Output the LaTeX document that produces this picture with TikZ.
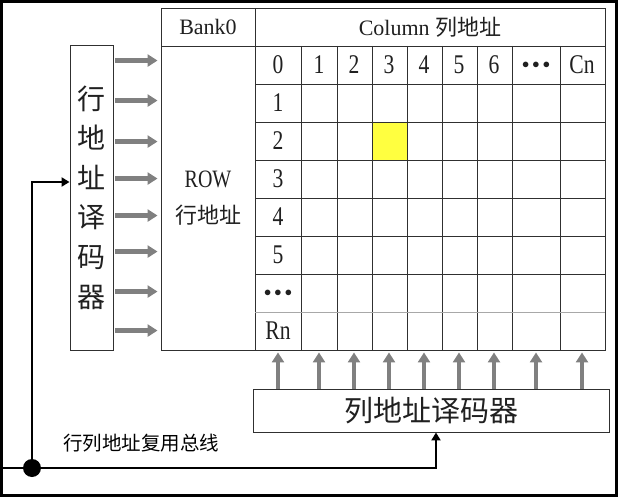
\documentclass[tikz,border=0pt]{standalone}
\usepackage{fontspec}
\setmainfont{Liberation Serif}[FakeStretch=0.8]
\newfontfamily\hdrfont{Liberation Serif}
\newfontfamily\cjk{Noto Sans CJK SC}
\usetikzlibrary{arrows.meta, positioning}
\definecolor{gridline}{HTML}{303030}
\definecolor{textgray}{HTML}{202020}
\definecolor{arrowgray}{HTML}{808080}
\definecolor{cellyellow}{HTML}{FFFF40}
\definecolor{lightline}{HTML}{A8A8A8}
\newcommand{\hdots}{{\fontsize{14}{14}\selectfont$\bullet\bullet\bullet$}}

\begin{document}
\begin{tikzpicture}[x=1pt, y=-1pt,
    box/.style={draw=gridline, line width=0.9pt, inner sep=0pt, text=textgray},
    numlbl/.style={font=\fontsize{27}{27}\selectfont, text=textgray},
    grayarrow/.style={draw=arrowgray, line width=4.5pt, -{Triangle[length=10pt, width=12pt]}},
    busline/.style={line width=2.8pt, line join=miter},
    busarrow/.style={busline, -{Triangle[length=8pt, width=9pt]}}
]
  \useasboundingbox (0,0) rectangle (618,497);

  % Rahmen
  \draw[line width=2.6pt] (1.5,1.5) rectangle (616.5,495.5);

  % markierte Zelle
  \fill[cellyellow] (372,122) rectangle (407,160);

  % Kopfzeile
  \node[box, minimum width=94pt, minimum height=38pt, font=\hdrfont\fontsize{22}{22}\selectfont] (bank) at (208,27) {Bank0};
  \node[box, minimum width=350pt, minimum height=38pt, font=\hdrfont\fontsize{22}{22}\selectfont] (colhd) at (430,27) {Column {\cjk\fontsize{22}{22}\selectfont 列地址}};

  % Zeilenblock
  \node[box, minimum width=94pt, minimum height=304pt, align=center, font=\fontsize{25}{36}\selectfont] (rowblk) at (208,198) {ROW\\{\cjk\fontsize{22}{36}\selectfont 行地址}};

  % Matrix
  \node[box, minimum width=350pt, minimum height=304pt] (grid) at (430,198) {};
  \foreach \gx in {301,337,372,407,442,477,512,560}
    \draw[gridline, line width=0.9pt] (\gx,46) -- (\gx,350);
  \foreach \gy in {84,122,160,198,236,274}
    \draw[gridline, line width=0.9pt] (255,\gy) -- (605,\gy);
  \draw[lightline, line width=0.9pt] (255,312) -- (605,312);

  % Spaltennummern
  \foreach \px/\nm/\lbl in {278/h0/0, 319/h1/1, 354/h2/2, 389/h3/3, 424/h4/4, 459/h5/5, 494/h6/6, 536/h7/\hdots, 582/h8/Cn}
    \node[numlbl] (\nm) at (\px,65) {\lbl};

  % Zeilennummern
  \foreach \py/\nm/\lbl in {103/r1/1, 141/r2/2, 179/r3/3, 217/r4/4, 255/r5/5, 293/r6/\hdots, 331/r7/Rn}
    \node[numlbl] (\nm) at (278,\py) {\lbl};

  % Zeilendecoder
  \node[box, minimum width=43pt, minimum height=305pt, align=center, font=\cjk\fontsize{28}{39.6}\selectfont] (rowdec) at (91.5,197.5) {行\\地\\址\\译\\码\\器};
  \foreach \py in {61,101,142,179,216,252,292,331} {
    \path ([xshift=2pt, yshift={(45-\py)*1pt}]rowdec.north east) coordinate (ra\py);
    \draw[grayarrow, shorten >=3pt] (ra\py) -- (ra\py -| rowblk.west);
  }

  % Spaltendecoder
  \node[box, minimum width=356pt, minimum height=43pt, font=\cjk\fontsize{29}{29}\selectfont] (coldec) at (431,410.5) {列地址译码器};
  \foreach \nm in {h0,h1,h2,h3,h4,h5,h6,h7,h8}
    \draw[grayarrow, shorten >=2pt] (coldec.north -| \nm) -- (grid.south -| \nm);

  % Adressbus
  \coordinate (busL) at (2,468);
  \coordinate (busR) at (436,468);
  \node[circle, fill, minimum size=18pt, inner sep=0pt] (jn) at (32,468) {};
  \path ([yshift=15.5pt]rowdec.west) coordinate (rin);
  \draw[busarrow] (busL) -| (busR |- coldec.south);
  \draw[busarrow] (jn.center) |- (rin);
  \node[font=\cjk\fontsize{19.5}{19.5}\selectfont] (buslbl) at (141,443) {行列地址复用总线};

\end{tikzpicture}
\end{document}
